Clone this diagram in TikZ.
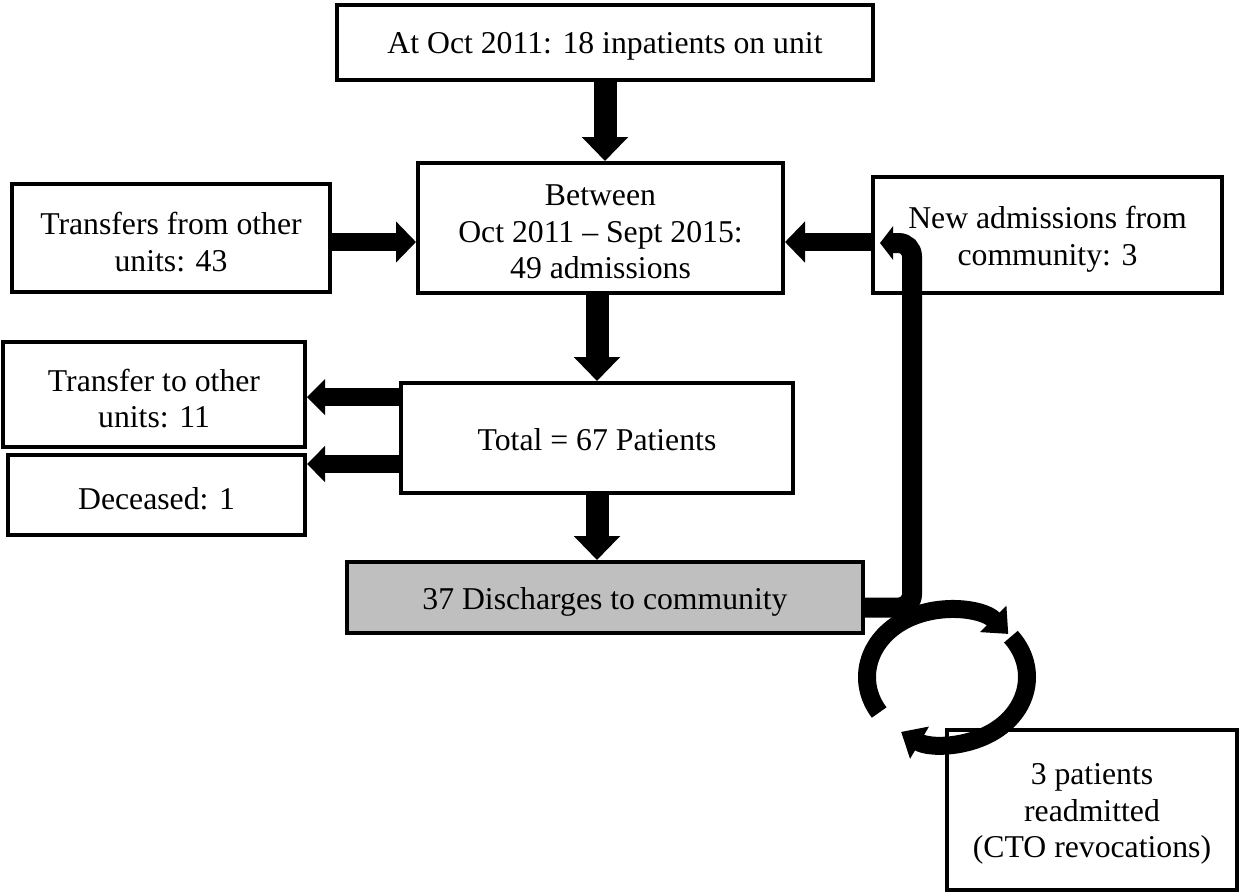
\documentclass[tikz,border=0pt]{standalone}
\usepackage{fontspec}
\setmainfont{Liberation Serif}
\usetikzlibrary{arrows.meta,calc}
\begin{document}
\begin{tikzpicture}[x=0.75pt,y=0.75pt,
  box/.style={draw, line width=3pt, fill=white, inner sep=0pt},
  tx/.style={align=center, inner sep=0pt, yshift=-3pt,
    font=\fontsize{23.8pt}{27.4pt}\selectfont},
  varr/.style={line width=17.25pt, -{Triangle[width=33.75pt,length=18pt]}},
  harr/.style={line width=13.5pt, -{Triangle[width=30pt,length=15pt]}},
  larr/.style={line width=13.5pt, -{Triangle[width=26.25pt,length=13.5pt]}},
  carr/.style={line width=15pt, rounded corners=10pt, -{Triangle[width=24.75pt,length=9.75pt]}},
  circ/.style={line width=13.5pt, -{Triangle[width=27pt,length=16pt]}}]
\fill[white] (0,0) rectangle (1239,-894);
\useasboundingbox (0,0) rectangle (1239,-894);

\node[box, minimum width=402pt, minimum height=56.25pt,
  label={[tx]center:At Oct 2011: 18 inpatients on unit}] (b1) at (605,-42.5) {};
\node[box, minimum width=273.75pt, minimum height=97.5pt,
  label={[tx]center:{Between\\Oct 2011 -- Sept 2015:\\49 admissions}}] (b2) at (600.5,-228) {};
\node[box, minimum width=238.5pt, minimum height=81pt,
  label={[tx]center:{Transfers from other\\units: 43}}] (tf) at (171,-238) {};
\node[box, minimum width=261.75pt, minimum height=87pt,
  label={[tx]center:{New admissions from\\community: 3}}] (na) at (1047.5,-235) {};
\node[box, minimum width=226.5pt, minimum height=78.75pt,
  label={[tx]center:{Transfer to other\\units: 11}}] (tt) at (154,-394.5) {};
\node[box, minimum width=222.75pt, minimum height=60pt,
  label={[tx]center:Deceased: 1}] (dc) at (156.5,-495) {};
\node[box, minimum width=294pt, minimum height=82.5pt,
  label={[tx, yshift=1.5pt]center:Total = 67 Patients}] (tot) at (597,-438) {};
\node[box, fill={rgb,255:red,191;green,191;blue,191}, minimum width=387pt, minimum height=53.25pt,
  label={[tx]center:37 Discharges to community}] (dis) at (605,-597.5) {};
\node[box, minimum width=217.5pt, minimum height=120pt,
  label={[tx]center:{3 patients\\readmitted\\(CTO revocations)}}] (rp) at (1092,-810) {};

\draw[varr] (b1.south) -- (b1.south |- b2.north);
\draw[varr] (tot.north |- b2.south) -- (tot.north);
\draw[varr] (tot.south) -- (tot.south |- dis.north);
\draw[harr] ([yshift=-3pt]tf.east) -- ([yshift=-3pt]tf.east -| b2.west);
\draw[harr] ([yshift=-5.25pt]na.west) -- ([yshift=-5.25pt]na.west -| b2.east);
\draw[larr] ([yshift=-2pt]tt.east -| tot.west) -- ([yshift=-2pt]tt.east);
\draw[larr] ([yshift=-8.25pt]dc.north east -| tot.west) -- ([yshift=-8.25pt]dc.north east);

\coordinate (natip) at (880,-243);
\draw[carr] ([yshift=-7.5pt]dis.east) -| ($(natip)+(32,0)$) -- (natip);

\coordinate (cc) at (947,-677);
\draw[circ] ($(cc)+(212:80 and 67)$) arc[start angle=212, end angle=40, x radius=80, y radius=67];
\draw[circ] ($(cc)+(37:80 and 67)$) arc[start angle=37, end angle=-125, x radius=80, y radius=67];
\end{tikzpicture}
\end{document}
